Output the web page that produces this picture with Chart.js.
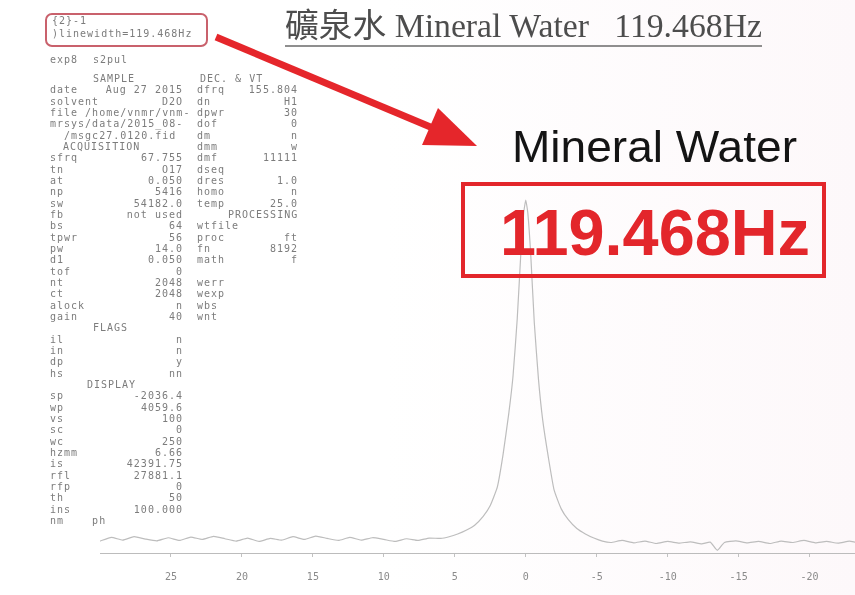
<!DOCTYPE html>
<html>
<head>
<meta charset="utf-8">
<script src="https://cdn.jsdelivr.net/npm/chart.js@4.4.0/dist/chart.umd.min.js"></script>
<style>
  html,body{margin:0;padding:0;}
  body{width:855px;height:595px;position:relative;overflow:hidden;
       background:linear-gradient(to right,#ffffff 0%,#ffffff 45%,#fdf8fa 100%);}
  #spec{position:absolute;left:0;top:0;}
  #notes{position:absolute;left:0;top:0;pointer-events:none;}
  #notes text{white-space:pre;}
</style>
</head>
<body>
<canvas id="spec" width="855" height="595"></canvas>
<svg id="notes" width="855" height="595" xmlns="http://www.w3.org/2000/svg"></svg>
<script>
// spectrum (shift axis runs right to left)
const shift = [30,29.2,28.4,27.6,26.8,26,25.2,24.4,23.6,22.8,22,21.2,20.4,19.6,18.8,18,17.2,16.4,15.6,14.8,
  14,13.2,12.4,11.6,10.8,10,9.2,8.4,7.6,6.8,6,5.4,4.8,4.2,3.6,3.0,2.5,2.0,1.6,1.2,0.9,0.6,0.35,0.15,0,
  -0.15,-0.35,-0.6,-0.9,-1.2,-1.6,-2.0,-2.5,-3.0,-3.6,-4.2,-4.8,-5.4,-6,-6.8,-7.6,-8.4,-9.2,-10,-10.8,
  -11.6,-12.4,-13.0,-13.5,-14,-14.8,-15.6,-16.4,-17.2,-18,-18.8,-19.6,-20.4,-21.2,-22,-22.8,-23.2];
const intensity = [-0.5,0.6,-0.2,0.8,0.1,-0.4,0.5,-0.3,0.7,0,0.9,0.2,-0.5,0.4,-0.6,0.3,-0.2,0.8,0,1.0,
  0.3,-0.3,0.6,-0.2,0.5,0,-0.6,0.2,-0.3,0.4,0.3,0.8,1.6,2.7,4.2,6.8,10,15.5,25,37,48,65,84,96,100,
  96,84,64,47,35,24,14.5,9,5.8,3.2,1.6,0.4,-0.5,-0.9,-0.3,-1.0,-0.5,-1.2,-0.6,-1.1,
  -0.7,-1.3,-0.8,-3.2,-0.9,-0.4,-1.0,-0.6,-1.2,-0.5,-0.9,-0.3,-1.0,-0.6,-1.1,-0.5,-0.8];
const xTicks = [25,20,15,10,5,0,-5,-10,-15,-20];

// parameter listing: [label, value, label2, value2]
const params = [
  ['#SAMPLE','','#DEC. & VT',''],
  ['date','Aug 27 2015','dfrq','155.804'],
  ['solvent','D2O','dn','H1'],
  ['file /home/vnmr/vnm-','','dpwr','30'],
  ['mrsys/data/2015_08-','','dof','0'],
  ['  /msgc27.0120.fid','','dm','n'],
  ['#ACQUISITION','','dmm','w'],
  ['sfrq','67.755','dmf','11111'],
  ['tn','O17','dseq',''],
  ['at','0.050','dres','1.0'],
  ['np','5416','homo','n'],
  ['sw','54182.0','temp','25.0'],
  ['fb','not used','#PROCESSING',''],
  ['bs','64','wtfile',''],
  ['tpwr','56','proc','ft'],
  ['pw','14.0','fn','8192'],
  ['d1','0.050','math','f'],
  ['tof','0','',''],
  ['nt','2048','werr',''],
  ['ct','2048','wexp',''],
  ['alock','n','wbs',''],
  ['gain','40','wnt',''],
  ['#FLAGS','','',''],
  ['il','n','',''],
  ['in','n','',''],
  ['dp','y','',''],
  ['hs','nn','',''],
  ['#DISPLAY','','',''],
  ['sp','-2036.4','',''],
  ['wp','4059.6','',''],
  ['vs','100','',''],
  ['sc','0','',''],
  ['wc','250','',''],
  ['hzmm','6.66','',''],
  ['is','42391.75','',''],
  ['rfl','27881.1','',''],
  ['rfp','0','',''],
  ['th','50','',''],
  ['ins','100.000','',''],
  ['nm    ph','','',''],
];
const headerX = {'SAMPLE':93,'DEC. & VT':200,'ACQUISITION':63,'PROCESSING':228,'FLAGS':93,'DISPLAY':87};

function renderSpectrum(){
  const pts = shift.map((s,i)=>({x:s,y:intensity[i]}));
  new Chart(document.getElementById('spec'),{
    type:'scatter',
    data:{datasets:[{data:pts,showLine:true,borderColor:'#bdbdbd',borderWidth:1.2,
      pointRadius:0,tension:0.15}]},
    options:{
      responsive:false,animation:false,devicePixelRatio:1,
      layout:{padding:{left:100,right:0,top:196.6,bottom:0}},
      plugins:{legend:{display:false},tooltip:{enabled:false}},
      scales:{
        x:{type:'linear',reverse:true,min:-23.2,max:30,
          afterBuildTicks:s=>{s.ticks = xTicks.map(v=>({value:v}));},
          afterFit:s=>{s.height = 42;},
          grid:{drawOnChartArea:false,tickLength:4,color:'#c2c2c2'},
          border:{color:'#bcbcbc',dash:[1,2]},
          ticks:{padding:14,color:'#8a8a8a',font:{family:'DejaVu Sans Mono',size:10}}},
        y:{display:false,min:-4,max:101}
      }
    }
  });
}

const NS = 'http://www.w3.org/2000/svg';
function el(tag,attrs,text){
  const e = document.createElementNS(NS,tag);
  for(const k in attrs) e.setAttribute(k,attrs[k]);
  if(text!==undefined) e.textContent = text;
  document.getElementById('notes').appendChild(e);
  return e;
}

function drawNotes(){
  const mono = {'font-family':'DejaVu Sans Mono','font-size':10,fill:'#7c7c7c','letter-spacing':1};
  // small box with the linewidth readout
  el('rect',{x:46,y:14,width:161,height:32,rx:6,fill:'none',stroke:'#c9616c','stroke-width':2});
  el('text',Object.assign({x:52,y:24},mono),'{2}-1');
  el('text',Object.assign({x:52,y:37},mono),')linewidth=119.468Hz');
  el('text',Object.assign({x:50,y:63},mono),'exp8');
  el('text',Object.assign({x:93,y:63},mono),'s2pul');

  params.forEach((r,i)=>{
    const y = 82 + i*11.33;
    [[r[0],r[1],50,183],[r[2],r[3],197,298]].forEach(([lab,val,lx,rx])=>{
      if(lab.startsWith('#')){
        const h = lab.slice(1);
        el('text',Object.assign({x:headerX[h],y:y},mono),h);
        return;
      }
      if(lab) el('text',Object.assign({x:lx,y:y},mono),lab);
      if(val) el('text',Object.assign({x:rx,y:y,'text-anchor':'end'},mono),val);
    });
  });

  // title
  el('text',{x:285,y:37,'font-family':'Liberation Serif, Noto Sans CJK TC','font-size':33,
    fill:'#4d4d4d',textLength:477,lengthAdjust:'spacingAndGlyphs'},
    '礦泉水 Mineral Water   119.468Hz');
  el('line',{x1:285,y1:46,x2:762,y2:46,stroke:'#6a6a6a','stroke-width':1.5});

  // arrow
  el('line',{x1:216,y1:37,x2:440,y2:131,stroke:'#e5262b','stroke-width':7});
  el('polygon',{points:'422,145 438,108 477,146',fill:'#e5262b'});

  el('text',{x:512,y:162,'font-family':'Liberation Sans','font-size':44,fill:'#141414',
    textLength:285,lengthAdjust:'spacingAndGlyphs'},'Mineral Water');
  el('rect',{x:463,y:184,width:361,height:92,fill:'none',stroke:'#e3262b','stroke-width':4});
  el('text',{x:500,y:255,'font-family':'Liberation Sans','font-size':64,'font-weight':'bold',
    fill:'#e3262b',textLength:310,lengthAdjust:'spacingAndGlyphs'},'119.468Hz');
}

document.addEventListener('DOMContentLoaded',()=>{
  renderSpectrum();
  drawNotes();
});
</script>
</body>
</html>
